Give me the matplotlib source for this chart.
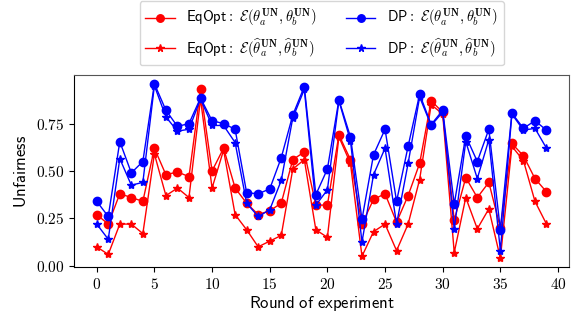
import matplotlib
matplotlib.use("Agg")
import matplotlib.pyplot as plt
from matplotlib.ticker import FuncFormatter

plt.rcParams['mathtext.fontset'] = 'cm'

rounds = list(range(40))

# EqOpt, true parameters (circles) and estimated parameters (stars)
eq_true = [0.27, 0.22, 0.38, 0.36, 0.34, 0.62, 0.48, 0.495, 0.47, 0.93,
           0.50, 0.62, 0.41, 0.33, 0.27, 0.29, 0.33, 0.56, 0.60, 0.32,
           0.32, 0.69, 0.56, 0.22, 0.35, 0.38, 0.23, 0.37, 0.54, 0.87,
           0.81, 0.24, 0.465, 0.36, 0.44, 0.20, 0.645, 0.58, 0.46, 0.39]
eq_est = [0.10, 0.06, 0.22, 0.22, 0.17, 0.59, 0.37, 0.41, 0.36, 0.88,
          0.41, 0.61, 0.27, 0.19, 0.10, 0.13, 0.16, 0.51, 0.56, 0.19,
          0.15, 0.68, 0.54, 0.05, 0.18, 0.22, 0.08, 0.22, 0.455, 0.85,
          0.80, 0.07, 0.36, 0.195, 0.30, 0.04, 0.63, 0.555, 0.34, 0.22]

# DP, true parameters (circles) and estimated parameters (stars)
dp_true = [0.34, 0.26, 0.655, 0.49, 0.55, 0.96, 0.82, 0.735, 0.75, 0.885,
           0.765, 0.75, 0.72, 0.385, 0.38, 0.405, 0.57, 0.795, 0.945, 0.375,
           0.51, 0.875, 0.68, 0.245, 0.585, 0.72, 0.34, 0.63, 0.905, 0.745,
           0.82, 0.325, 0.685, 0.55, 0.72, 0.19, 0.805, 0.725, 0.765, 0.715]
dp_est = [0.22, 0.14, 0.565, 0.425, 0.44, 0.95, 0.785, 0.71, 0.72, 0.88,
          0.74, 0.74, 0.65, 0.33, 0.26, 0.295, 0.45, 0.78, 0.93, 0.32,
          0.40, 0.87, 0.66, 0.125, 0.48, 0.62, 0.22, 0.54, 0.89, 0.74,
          0.81, 0.195, 0.655, 0.46, 0.665, 0.08, 0.80, 0.715, 0.725, 0.62]

lab_true = r'$\mathcal{E}(\theta_a^{\mathbf{UN}}, \theta_b^{\mathbf{UN}})$'
lab_est = r'$\mathcal{E}(\widehat{\theta}_a^{\mathbf{UN}}, \widehat{\theta}_b^{\mathbf{UN}})$'

fig = plt.figure(figsize=(5.8, 3.22), dpi=100)
ax = fig.add_axes([0.128, 0.171, 0.853, 0.596])

ax.plot(rounds, eq_true, color='red', marker='o', markersize=6, lw=1,
        label='EqOpt: ' + lab_true)
ax.plot(rounds, eq_est, color='red', marker='*', markersize=6, lw=1,
        label='EqOpt: ' + lab_est)
ax.plot(rounds, dp_true, color='blue', marker='o', markersize=6, lw=1,
        label='DP: ' + lab_true)
ax.plot(rounds, dp_est, color='blue', marker='*', markersize=6, lw=1,
        label='DP: ' + lab_est)

ax.set_xticks([0, 5, 10, 15, 20, 25, 30, 35, 40])
ax.set_yticks([0.0, 0.25, 0.5, 0.75])
ax.xaxis.set_major_formatter(FuncFormatter(lambda v, p: f'${v:.0f}$'))
ax.yaxis.set_major_formatter(FuncFormatter(lambda v, p: f'${v:.2f}$'))
ax.tick_params(axis='both', labelsize=11)

ax.set_xlabel(r'$\mathsf{Round\ of\ experiment}$', fontsize=12, labelpad=2)
ax.set_ylabel(r'$\mathsf{Unfairness}$', fontsize=12, labelpad=4)

for s in ['top', 'right']:
    ax.spines[s].set_color('#555555')

leg = ax.legend(loc='lower center', bbox_to_anchor=(0.5, 1.05), ncol=2,
                fontsize=10.5, columnspacing=2.0, handlelength=2.0,
                markerscale=0.9, borderaxespad=0.0, frameon=True)
for t in leg.get_texts():
    s = t.get_text()
    name, rest = s.split(': ', 1)
    t.set_text(r'$\mathsf{' + name + r':}$ ' + rest)

fig.savefig('out.png', dpi=100)
